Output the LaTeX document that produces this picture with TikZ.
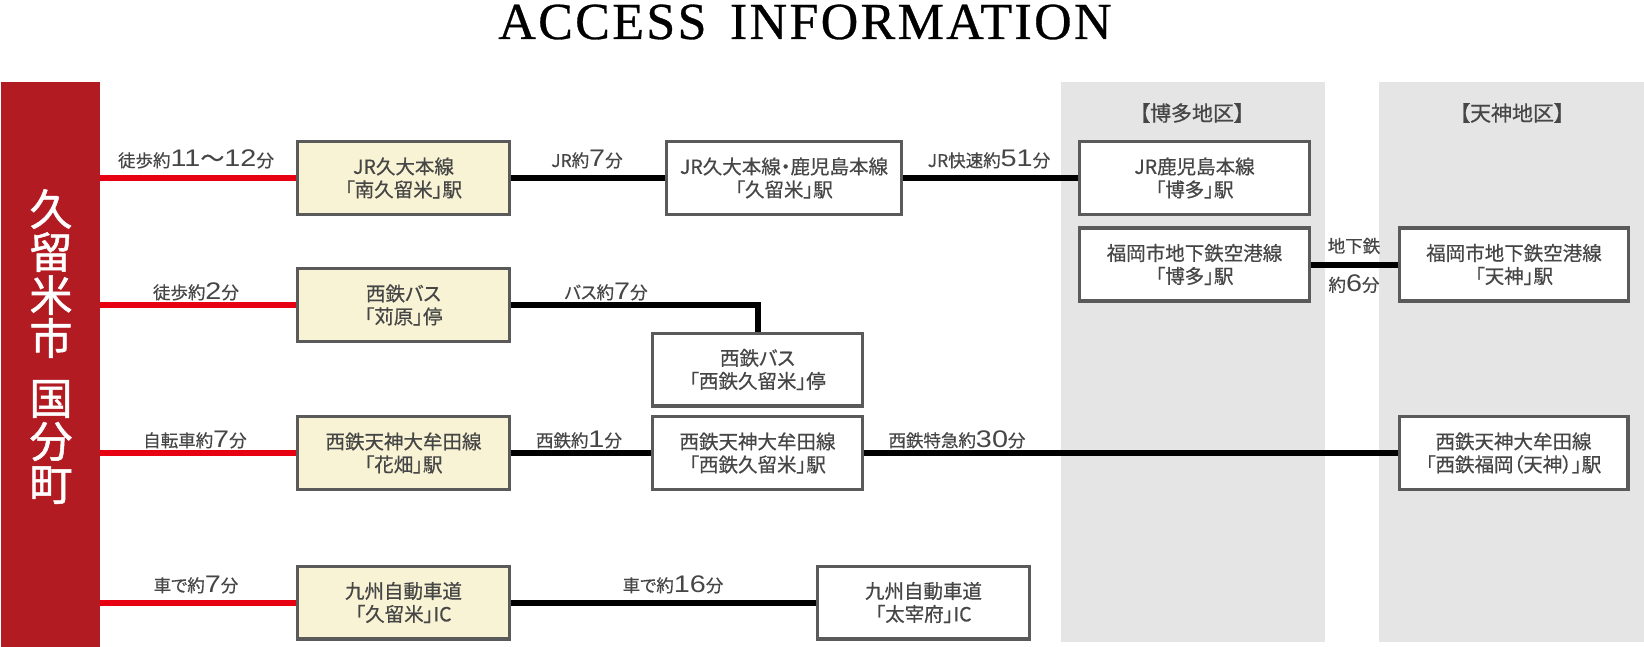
\documentclass[tikz,border=0pt]{standalone}
\usepackage{fontspec}
\setmainfont{Liberation Serif}
\newfontfamily\jp[RawFeature={+palt}, FakeBold=0.5]{Noto Sans CJK JP}
\newfontfamily\jpbar[FakeBold=1.2]{Noto Sans CJK JP}
\newfontfamily\digfont{Liberation Sans}
\newfontfamily\titlefont[LetterSpace=4.5, FakeBold=0.6]{Liberation Serif}
\definecolor{barred}{HTML}{B31B23}
\definecolor{linered}{HTML}{E60012}
\definecolor{boxgray}{HTML}{5A5A5A}
\definecolor{cream}{HTML}{F7F3D4}
\definecolor{panelgray}{HTML}{E5E5E5}
\definecolor{textgray}{HTML}{464646}
\newcommand{\dg}[1]{{\digfont\fontsize{24}{24}\selectfont\scalebox{1.2}[1]{#1}}}
\newcommand{\wave}{{\fontsize{24}{24}\selectfont 〜}}
\tikzset{
  stbox/.style={draw=boxgray, line width=3.4pt, fill=white, minimum height=72.6pt,
    inner sep=0pt, align=center, text=textgray, font=\jp\fontsize{19.5}{23}\selectfont},
  startbox/.style={stbox, fill=cream},
  redline/.style={draw=linered, line width=6pt},
  blkline/.style={draw=black, line width=6pt},
  lbl/.style={anchor=base, inner sep=0pt, text=textgray, font=\jp\fontsize{17.5}{18}\selectfont},
  areaname/.style={inner sep=0pt, text=textgray, font=\jp\fontsize{21}{22}\selectfont},
}
\begin{document}
\begin{tikzpicture}[x=1pt,y=1pt,yscale=-1]
\useasboundingbox (0,0) rectangle (1644,647);

%title
\node[anchor=base, inner sep=0pt, font=\titlefont\fontsize{52}{52}\selectfont] (title) at (805,39) {ACCESS\hspace{0.45em}INFORMATION};

%area panels
\fill[panelgray] (1061,82) rectangle (1325,642);
\fill[panelgray] (1379,82) rectangle (1644,642);
\node[areaname] (hakata) at (1192,113) {【博多地区】};
\node[areaname] (tenjin) at (1512,113) {【天神地区】};

%start bar
\node[fill=barred, minimum width=99pt, minimum height=565pt, inner sep=0pt] (bar) at (50.5,364.5) {};
\node[align=center, text=white, inner sep=0pt, font=\jpbar\fontsize{43}{43}\selectfont] (barname) at (51,346.5) {久\\留\\米\\市\\[17pt]国\\分\\町};

%first stops
\node[startbox, minimum width=211.6pt] (A1) at (403.5,178) {JR久大本線\\「南久留米」駅};
\node[startbox, minimum width=211.6pt] (B1) at (403.5,305) {西鉄バス\\「苅原」停};
\node[startbox, minimum width=211.6pt] (C1) at (403.5,453) {西鉄天神大牟田線\\「花畑」駅};
\node[startbox, minimum width=211.6pt] (D1) at (403.5,602.5) {九州自動車道\\「久留米」IC};

%transfer stops
\node[stbox, minimum width=234.6pt] (A2) at (784,178) {JR久大本線・鹿児島本線\\「久留米」駅};
\node[stbox, minimum width=209.6pt] (B2) at (757.5,369.5) {西鉄バス\\「西鉄久留米」停};
\node[stbox, minimum width=209.6pt] (C2) at (757.5,453) {西鉄天神大牟田線\\「西鉄久留米」駅};
\node[stbox, minimum width=211.6pt] (D2) at (923.5,602.5) {九州自動車道\\「太宰府」IC};

%hakata / tenjin
\node[stbox, minimum width=229.6pt] (A3) at (1194.5,178) {JR鹿児島本線\\「博多」駅};
\node[stbox, minimum width=229.6pt] (A4) at (1194.5,264.5) {福岡市地下鉄空港線\\「博多」駅};
\node[stbox, minimum width=228.6pt] (T1) at (1514,264.5) {福岡市地下鉄空港線\\「天神」駅};
\node[stbox, minimum width=228.6pt] (T2) at (1513.5,453) {西鉄天神大牟田線\\「西鉄福岡（天神）」駅};

%walk / bike / car
\draw[redline] (bar.east |- A1.west) -- (A1.west);
\draw[redline] (bar.east |- B1.west) -- (B1.west);
\draw[redline] (bar.east |- C1.west) -- (C1.west);
\draw[redline] (bar.east |- D1.west) -- (D1.west);

%trains, bus, car
\draw[blkline] (A1.east) -- (A2.west);
\draw[blkline] (A2.east) -- (A3.west);
\draw[blkline] (B1.east) -| (B2.north);
\draw[blkline] (C1.east) -- (C2.west);
\draw[blkline] (C2.east) -- (T2.west);
\draw[blkline] (D1.east) -- (D2.west);
\draw[blkline] (A4.east) -- (T1.west);

%labels
\node[lbl] (walkA) at (196,167) {徒歩約\dg{11}\wave\dg{12}分};
\node[lbl] (walkB) at (196,299) {徒歩約\dg{2}分};
\node[lbl] (bike) at (195,447) {自転車約\dg{7}分};
\node[lbl] (carA) at (196,592) {車で約\dg{7}分};
\node[lbl] (jrA) at (587,167) {JR約\dg{7}分};
\node[lbl] (jrB) at (989,167) {JR快速約\dg{51}分};
\node[lbl] (bus) at (606,299) {バス約\dg{7}分};
\node[lbl] (nsA) at (579,447) {西鉄約\dg{1}分};
\node[lbl] (nsB) at (957,447) {西鉄特急約\dg{30}分};
\node[lbl] (carB) at (673,592) {車で約\dg{16}分};
\node[lbl] (subA) at (1354,252.5) {地下鉄};
\node[lbl] (subB) at (1354,291.5) {約\dg{6}分};

\end{tikzpicture}
\end{document}
